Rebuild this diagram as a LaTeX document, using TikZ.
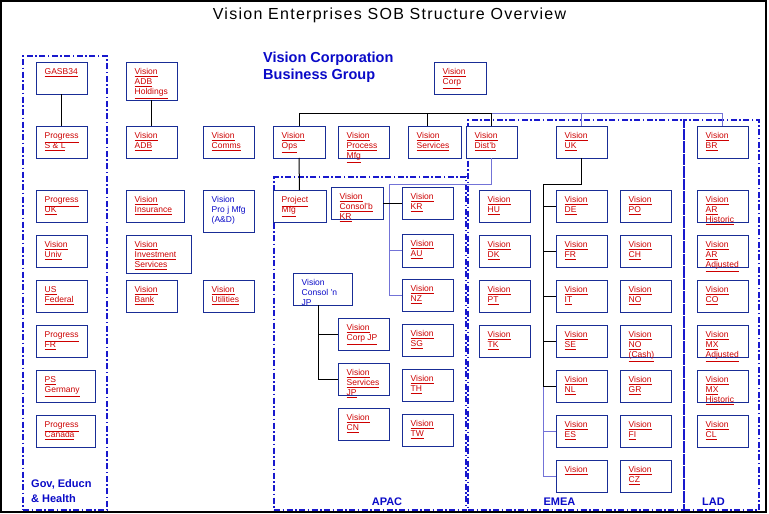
\documentclass[tikz,border=0pt]{standalone}
\usepackage{fontspec}
\setmainfont{Liberation Sans}
\newfontfamily\titlefont[LetterSpace=8]{Liberation Sans}
\usetikzlibrary{calc}
\definecolor{boxblue}{RGB}{25,45,150}
\definecolor{txtred}{RGB}{205,0,0}
\definecolor{regblue}{RGB}{25,25,205}
\definecolor{lblblue}{RGB}{10,10,200}
\definecolor{linkblue}{RGB}{115,115,215}
\newcommand\uu[1]{\underline{#1}}
\tikzset{
  box/.style={draw=boxblue, line width=0.9pt, fill=white, anchor=north west,
    minimum width=51pt, minimum height=32pt, inner sep=0pt, outer sep=0pt},
  txt/.style={anchor=north west, inner sep=0pt, align=left,
    font=\fontsize{8.5}{10}\selectfont, text=txtred, xshift=8.5pt, yshift=-6.5pt},
  btxt/.style={txt, text=lblblue},
  conn/.style={draw=black, line width=1pt},
  lconn/.style={draw=linkblue, line width=0.8pt},
  region/.style={draw=regblue, line width=1.4pt,
    dash pattern=on 6pt off 2.5pt on 1.5pt off 2.5pt,
    anchor=north west, inner sep=0pt, outer sep=0pt},
  grp/.style={text=lblblue, font=\bfseries\fontsize{11}{14.5}\selectfont, inner sep=0pt},
}
\newcommand\obox[4][]{\node[box,#1,label={[txt]north west:{#4}}] (#2) at (#3) {};}
\newcommand\oboxb[4][]{\node[box,#1,label={[btxt]north west:{#4}}] (#2) at (#3) {};}
\begin{document}
\begin{tikzpicture}[x=1pt,y=-1pt]
\useasboundingbox (0,0) rectangle (769,514);
\fill[white] (0,0) rectangle (769,514);
% regions
\node[region, minimum width=84pt, minimum height=454pt] (gov) at (23,56) {};
\node[region, minimum width=192pt, minimum height=333pt] (apac) at (274,177) {};
\node[region, minimum width=216pt, minimum height=390pt] (emea) at (468,120) {};
\node[region, minimum width=75pt, minimum height=390pt] (lad) at (684,120) {};
% titles
\node[font=\titlefont\fontsize{16}{18}\selectfont, anchor=base, inner sep=0pt] (title) at (389.5,19.5) {Vision Enterprises SOB Structure Overview};
\node[text=lblblue, font=\bfseries\fontsize{14.5}{17}\selectfont, align=left, anchor=north west, inner sep=0pt] (vcbg) at (263,52) {Vision Corporation\\Business Group};
\node[grp, anchor=north west, align=left] (govlbl) at (31,479.5) {Gov, Educn\\\& Health};
\node[grp] (apaclbl) at (387,502) {APAC};
\node[grp] (emealbl) at (559.5,502) {EMEA};
\node[grp] (ladlbl) at (713.5,502) {LAD};
% boxes: Gov column
\obox{gasb}{36,62}{\uu{GASB34}}
\obox{psl}{36,126}{\uu{Progress}\\\uu{S \& L}}
\obox{puk}{36,190}{\uu{Progress}\\\uu{UK}}
\obox{vuniv}{36,235}{\uu{Vision}\\\uu{Univ}}
\obox{usfed}{36,280}{\uu{US}\\\uu{Federal}}
\obox{pfr}{36,325}{\uu{Progress}\\\uu{FR}}
\obox[minimum width=59pt]{psger}{36,370}{\uu{PS}\\\uu{Germany}}
\obox[minimum width=59pt]{pcan}{36,415}{\uu{Progress}\\\uu{Canada}}
% middle columns
\obox[minimum height=38pt]{adbh}{126,62}{\uu{Vision}\\\uu{ADB}\\\uu{Holdings}}
\obox{adb}{126,126}{\uu{Vision}\\\uu{ADB}}
\obox[minimum width=58pt]{ins}{126,190}{\uu{Vision}\\\uu{Insurance}}
\obox[minimum width=65pt, minimum height=38pt]{inv}{126,235}{\uu{Vision}\\\uu{Investment}\\\uu{Services}}
\obox{bank}{126,280}{\uu{Vision}\\\uu{Bank}}
\obox{comms}{203,126}{\uu{Vision}\\\uu{Comms}}
\oboxb[minimum height=42pt]{projmfg}{203,190}{Vision\\Pro j Mfg\\(A\&D)}
\obox{util}{203,280}{\uu{Vision}\\\uu{Utilities}}
% top row
\obox[minimum width=52pt]{corp}{434,62}{\uu{Vision}\\\uu{Corp}}
\obox[minimum width=52pt]{ops}{273,126}{\uu{Vision}\\\uu{Ops}}
\obox{pmfg}{338,126}{\uu{Vision}\\\uu{Process}\\\uu{Mfg}}
\obox[minimum width=53pt]{serv}{408,126}{\uu{Vision}\\\uu{Services}}
\obox{dist}{466,126}{\uu{Vision}\\\uu{Dist'b}}
\obox{uk}{556,126}{\uu{Vision}\\\uu{UK}}
\obox{br}{697,126}{\uu{Vision}\\\uu{BR}}
% APAC
\obox[minimum width=53pt]{projm}{273,190}{\uu{Project}\\\uu{Mfg}}
\obox[minimum width=52pt]{conkr}{331,187}{\uu{Vision}\\\uu{Consol'b}\\\uu{KR}}
\obox{kr}{402,187}{\uu{Vision}\\\uu{KR}}
\obox[minimum height=33pt]{au}{402,234}{\uu{Vision}\\\uu{AU}}
\obox{nz}{402,279}{\uu{Vision}\\\uu{NZ}}
\oboxb[minimum width=59pt]{conjp}{293,273}{Vision\\Consol 'n\\JP}
\obox{corpjp}{338,318}{\uu{Vision}\\\uu{Corp JP}}
\obox{sg}{402,324}{\uu{Vision}\\\uu{SG}}
\obox{servjp}{338,363}{\uu{Vision}\\\uu{Services}\\\uu{JP}}
\obox{th}{402,369}{\uu{Vision}\\\uu{TH}}
\obox{cn}{338,408}{\uu{Vision}\\\uu{CN}}
\obox{tw}{402,414}{\uu{Vision}\\\uu{TW}}
% EMEA
\obox{hu}{479,190}{\uu{Vision}\\\uu{HU}}
\obox{dk}{479,235}{\uu{Vision}\\\uu{DK}}
\obox{pt}{479,280}{\uu{Vision}\\\uu{PT}}
\obox{tk}{479,325}{\uu{Vision}\\\uu{TK}}
\obox{de}{556,190}{\uu{Vision}\\\uu{DE}}
\obox{fr}{556,235}{\uu{Vision}\\\uu{FR}}
\obox{it}{556,280}{\uu{Vision}\\\uu{IT}}
\obox{se}{556,325}{\uu{Vision}\\\uu{SE}}
\obox{nl}{556,370}{\uu{Vision}\\\uu{NL}}
\obox{es}{556,415}{\uu{Vision}\\\uu{ES}}
\obox{eone}{556,460}{\uu{Vision}}
\obox{po}{620,190}{\uu{Vision}\\\uu{PO}}
\obox{ch}{620,235}{\uu{Vision}\\\uu{CH}}
\obox{no}{620,280}{\uu{Vision}\\\uu{NO}}
\obox{nocash}{620,325}{\uu{Vision}\\\uu{NO}\\\uu{(Cash)}}
\obox{gr}{620,370}{\uu{Vision}\\\uu{GR}}
\obox{fi}{620,415}{\uu{Vision}\\\uu{FI}}
\obox{cz}{620,460}{\uu{Vision}\\\uu{CZ}}
% LAD
\obox{arh}{697,190}{\uu{Vision}\\\uu{AR}\\\uu{Historic}}
\obox{ara}{697,235}{\uu{Vision}\\\uu{AR}\\\uu{Adjusted}}
\obox{co}{697,280}{\uu{Vision}\\\uu{CO}}
\obox{mxa}{697,325}{\uu{Vision}\\\uu{MX}\\\uu{Adjusted}}
\obox{mxh}{697,370}{\uu{Vision}\\\uu{MX}\\\uu{Historic}}
\obox{cl}{697,415}{\uu{Vision}\\\uu{CL}}
% connectors
\coordinate (bus) at (0,113);
\coordinate (sdrop) at (427,113);
\coordinate (apbus) at (389,184);
\coordinate (jpx) at (318,0);
\coordinate (ukbus) at (543,184);
\draw[conn] (gasb.south) -- (psl.north);
\draw[conn] (adbh.south) -- (adb.north);
\draw[lconn] (dist.north |- bus) -- (br.north |- bus) -- (br.north);
\draw[lconn] (uk.north |- bus) -- (uk.north);
\draw[conn] (ops.north) -- (ops.north |- bus) -- (dist.north |- bus) -- (dist.north);
\draw[conn] (sdrop) -- (sdrop |- serv.north);
\draw[conn] (ops.south) -- (projm.north);
\draw[lconn] (dist.south) -- (dist.south |- apbus) -- (apbus) -- (apbus |- nz.west) -- (nz.west);
\draw[lconn] (apbus |- au.west) -- (au.west);
\draw[conn] (conkr.east) -- (kr.west);
\draw[conn] (conjp.south -| jpx) -- (jpx |- servjp.west) -- (servjp.west);
\draw[conn] (jpx |- corpjp.west) -- (corpjp.west);
\draw[lconn] (ukbus |- nl.west) -- (ukbus |- eone.west) -- (eone.west);
\draw[lconn] (ukbus |- es.west) -- (es.west);
\draw[conn] (uk.south) -- (uk.south |- ukbus) -- (ukbus) -- (ukbus |- nl.west) -- (nl.west);
\foreach \n in {de,fr,it,se} \draw[conn] (ukbus |- \n.west) -- (\n.west);
% frame
\draw[line width=1.5pt] (1,1) rectangle (766,512);
\end{tikzpicture}
\end{document}
